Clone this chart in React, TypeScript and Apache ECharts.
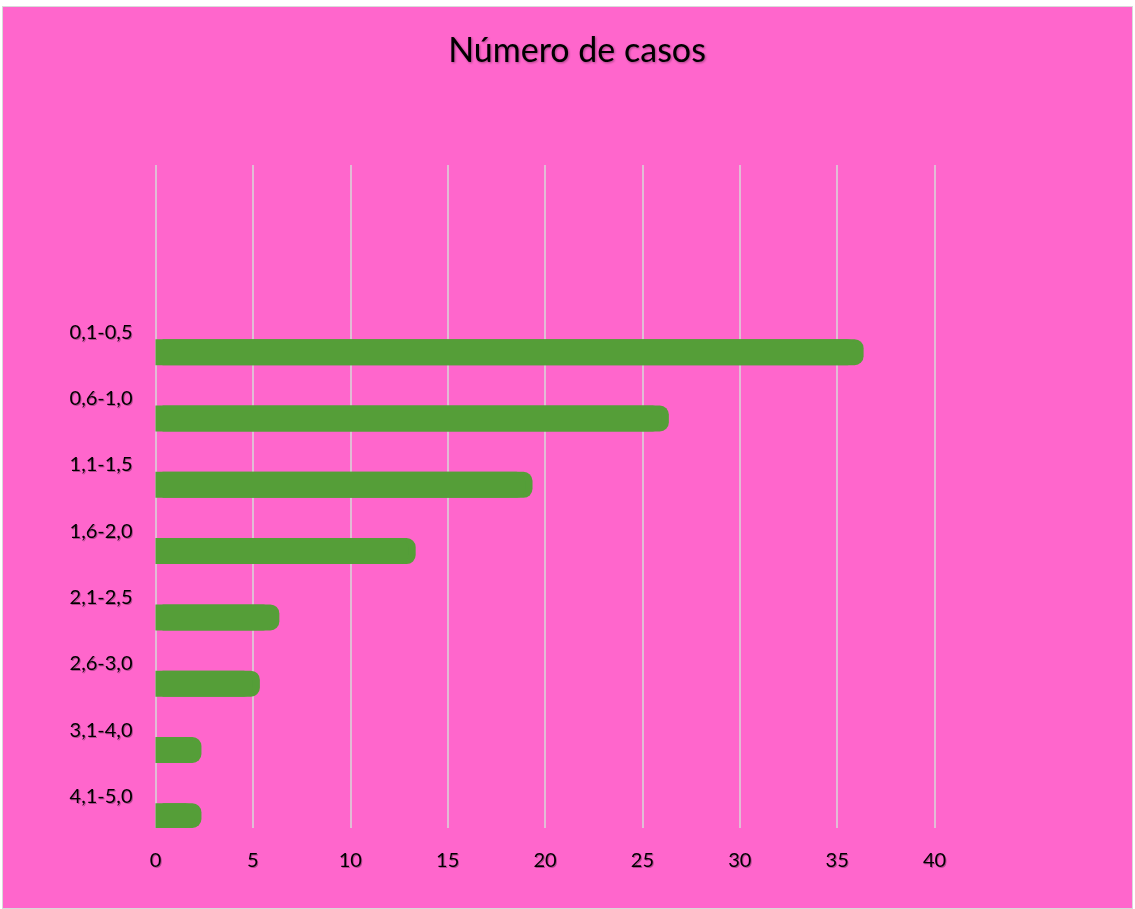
import React, { useEffect, useRef } from "react";
import * as echarts from "echarts";

const categories = ["0,1-0,5", "0,6-1,0", "1,1-1,5", "1,6-2,0", "2,1-2,5", "2,6-3,0", "3,1-4,0", "4,1-5,0"];
const casos = [36, 26, 19, 13, 6, 5, 2, 2];
const xTicks = { min: 0, max: 40, interval: 5 };
const title = "Número de casos";

export default function App() {
  const ref = useRef<HTMLDivElement>(null);
  useEffect(() => {
    if (!ref.current) return;
    const chart = echarts.init(ref.current, null, { renderer: "svg" });
    const axisCats = ["", "", ...categories];
    const realData = [null, null, ...casos];
    const dummy = axisCats.map(() => null);
    const font = "Lato, 'Open Sans', sans-serif";
    const labelShadow = {
      textShadowColor: "rgba(0,0,0,0.3)",
      textShadowBlur: 1,
      textShadowOffsetX: 1,
      textShadowOffsetY: 1,
    };
    chart.setOption({
      animation: false,
      backgroundColor: "#FF66CC",
      title: {
        text: title,
        left: 569,
        top: 19,
        textAlign: "center",
        textStyle: {
          fontFamily: font,
          fontSize: 34,
          fontWeight: "normal",
          color: "#000",
          textShadowColor: "rgba(0,0,0,0.35)",
          textShadowBlur: 2,
          textShadowOffsetX: 1,
          textShadowOffsetY: 1,
        },
      },
      grid: { left: 152.5, top: 158, width: 779, height: 663, containLabel: false },
      xAxis: {
        type: "value",
        min: xTicks.min,
        max: xTicks.max,
        interval: xTicks.interval,
        axisLine: { show: false },
        axisTick: { show: false },
        splitLine: { show: true, lineStyle: { color: "#D9D9D9", width: 1.5 } },
        axisLabel: {
          margin: 21,
          fontFamily: font,
          fontSize: 20,
          color: "#000",
          ...labelShadow,
        },
      },
      yAxis: {
        type: "category",
        inverse: true,
        data: axisCats,
        axisLine: { show: false },
        axisTick: { show: false },
        splitLine: { show: false },
        axisLabel: {
          margin: 23,
          fontFamily: font,
          fontSize: 20,
          color: "#000",
          ...labelShadow,
        },
      },
      series: [
        {
          type: "bar",
          name: "vacío",
          data: dummy,
          barWidth: 26,
          barGap: "65%",
        },
        {
          type: "bar",
          name: "Número de casos",
          data: realData,
          barWidth: 26,
          barGap: "65%",
          itemStyle: {
            color: "#549E39",
            borderRadius: [0, 9, 9, 0],
            shadowColor: "#549E39",
            shadowBlur: 0,
            shadowOffsetX: 7,
            shadowOffsetY: 0,
          },
        },
      ],
    });
    return () => chart.dispose();
  }, []);
  return (
    <div
      ref={ref}
      style={{
        position: "absolute",
        left: 2,
        top: 6,
        width: 1131,
        height: 903,
        boxSizing: "border-box",
        border: "1px solid #D9D9D9",
      }}
    />
  );
}
